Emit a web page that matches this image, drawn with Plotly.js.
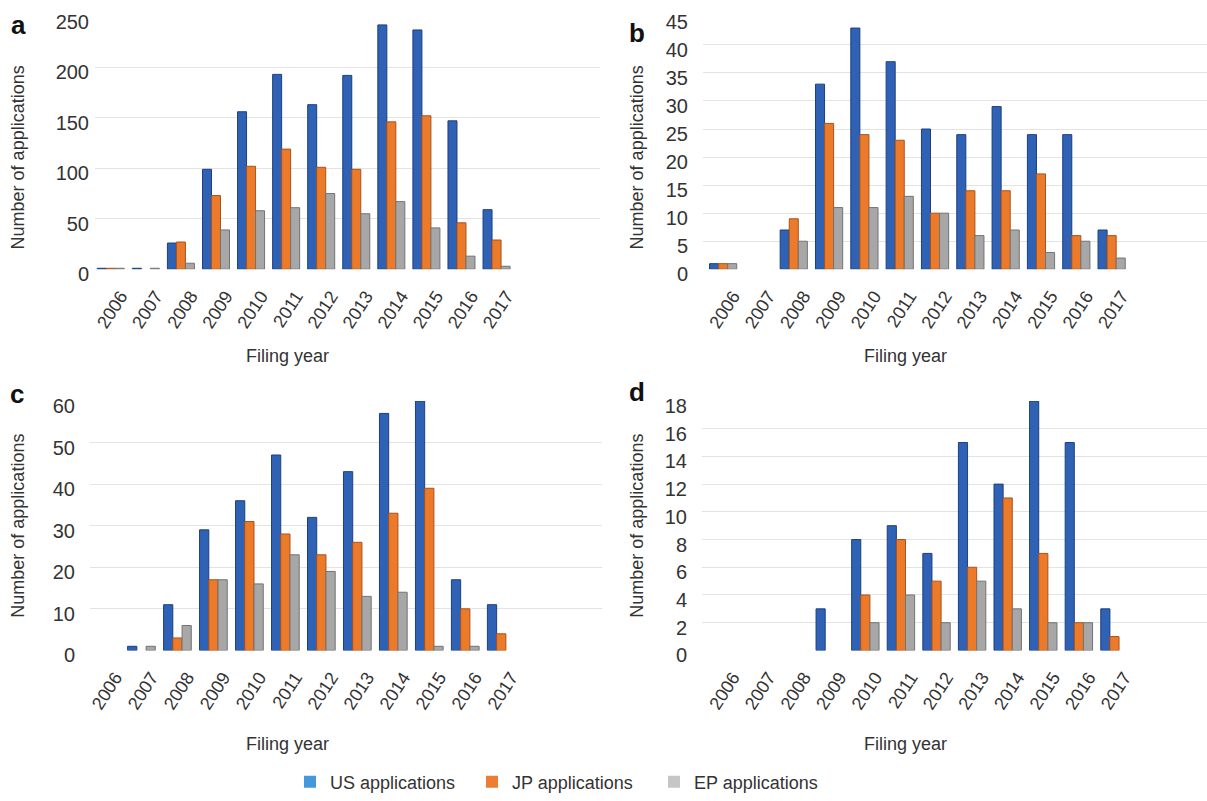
<!DOCTYPE html>
<html>
<head>
<meta charset="utf-8">
<script src="https://cdn.plot.ly/plotly-3.0.1.min.js"></script>
<style>html,body{margin:0;padding:0;background:#fff;}#chart{width:1207px;height:801px;}</style>
</head>
<body>
<div id="chart"></div>
<script>
// ---- data ----
const years = ['2006','2007','2008','2009','2010','2011','2012','2013','2014','2015','2016','2017'];
const seriesNames = ['US applications','JP applications','EP applications'];

// panel a
const usA = [1, 1, 26, 99, 156, 193, 163, 192, 242, 237, 147, 59];
const jpA = [1, 0, 27, 73, 102, 119, 101, 99, 146, 152, 46, 29];
const epA = [1, 1, 6, 39, 58, 61, 75, 55, 67, 41, 13, 3];
// panel b
const usB = [1, 0, 7, 33, 43, 37, 25, 24, 29, 24, 24, 7];
const jpB = [1, 0, 9, 26, 24, 23, 10, 14, 14, 17, 6, 6];
const epB = [1, 0, 5, 11, 11, 13, 10, 6, 7, 3, 5, 2];
// panel c
const usC = [0, 1, 11, 29, 36, 47, 32, 43, 57, 60, 17, 11];
const jpC = [0, 0, 3, 17, 31, 28, 23, 26, 33, 39, 10, 4];
const epC = [0, 1, 6, 17, 16, 23, 19, 13, 14, 1, 1, 0];
// panel d
const usD = [0, 0, 0, 3, 8, 9, 7, 15, 12, 18, 15, 3];
const jpD = [0, 0, 0, 0, 4, 8, 5, 6, 11, 7, 2, 1];
const epD = [0, 0, 0, 0, 2, 4, 2, 5, 3, 2, 2, 0];

const panelLabels = ['a','b','c','d'];
const yTicks = {a:[0,50,100,150,200,250], b:[0,5,10,15,20,25,30,35,40,45], c:[0,10,20,30,40,50,60], d:[0,2,4,6,8,10,12,14,16,18]};
const xTitle = 'Filing year';
const yTitle = 'Number of applications';

// ---- styles ----
const fill = ['#2F62B5','#EC7A2B','#A7A7A7'];
const edge = ['#1C3F80','#A9531B','#737373'];
const legendFill = ['#4598DC','#ED7D31','#C6C6C6'];
const txt = '#333333';
const grid = '#E3E3E3';

const panels = [
  {vals:[usA,jpA,epA], xa:'x',  ya:'y'},
  {vals:[usB,jpB,epB], xa:'x2', ya:'y2'},
  {vals:[usC,jpC,epC], xa:'x3', ya:'y3'},
  {vals:[usD,jpD,epD], xa:'x4', ya:'y4'}
];

const traces = [];
panels.forEach(p => {
  p.vals.forEach((v, i) => {
    traces.push({
      type:'bar', x:years, y:v.map(d => d === 0 ? null : d), name:seriesNames[i],
      xaxis:p.xa, yaxis:p.ya, showlegend:false, hoverinfo:'x+y+name',
      marker:{color:fill[i], line:{color:edge[i], width:1}}
    });
  });
});
// legend entries (on a hidden axis pair so they do not take bar slots)
seriesNames.forEach((n, i) => {
  traces.push({type:'bar', x:[years[0]], y:[null], name:n, xaxis:'x5', yaxis:'y5',
    showlegend:true, marker:{color:legendFill[i]}});
});

function xax(dom, range){
  return {domain:dom, type:'category', categoryorder:'array', categoryarray:years,
    range:range, tickangle:-57, tickfont:{size:18, color:txt}, showgrid:false,
    zeroline:false, showline:false, ticks:'', ticklabelstandoff:12, ticklabelshift:10,
    fixedrange:true};
}
function yax(dom, tv, xa, so){
  return {domain:dom, anchor:xa, range:[0, tv[tv.length-1]], tickvals:tv,
    tickfont:{size:20, color:txt}, showgrid:true, gridcolor:grid, gridwidth:1,
    zeroline:false, showline:false, ticks:'', ticklabelstandoff:so, ticklabelshift:5,
    fixedrange:true};
}
const W = 1207, H = 801;
const yTop = [1-272/H, 1-17/H], yBot = [1-657/H, 1-405/H];

const layout = {
  width:W, height:H, margin:{l:0,r:0,t:0,b:0},
  paper_bgcolor:'#ffffff', plot_bgcolor:'#ffffff',
  font:{family:'Liberation Sans, Arial, sans-serif', color:txt},
  barmode:'group', bargap:0.23, bargroupgap:0,
  showlegend:true,
  legend:{orientation:'h', x:290/W, xanchor:'left', y:1-790/H, yanchor:'middle',
    font:{size:18, color:txt}, itemwidth:30, entrywidth:137, entrywidthmode:'pixels',
    traceorder:'normal'},
  xaxis: Object.assign(xax([95/W, 600/W], [-0.45, 13.95]), {anchor:'y'}),
  yaxis: yax(yTop, yTicks.a, 'x', 5),
  xaxis2: Object.assign(xax([703/W, 1], [-0.57, 13.7]), {anchor:'y2'}),
  yaxis2: yax(yTop, yTicks.b, 'x2', 14),
  xaxis3: Object.assign(xax([90/W, 602/W], [-0.43, 13.8]), {anchor:'y3'}),
  yaxis3: yax(yBot, yTicks.c, 'x3', 14),
  xaxis4: Object.assign(xax([702/W, 1], [-0.59, 13.6]), {anchor:'y4'}),
  yaxis4: yax(yBot, yTicks.d, 'x4', 14),
  xaxis5: {domain:[0,0.01], anchor:'y5', visible:false, fixedrange:true},
  yaxis5: {domain:[0,0.01], anchor:'x5', visible:false, fixedrange:true},
  annotations: []
};

const labelPos = [[18,25],[637,33],[17,398],[637,396]];
const yTitlePos = [[18,159],[637,159],[18,531],[637,531]];
const xTitlePos = [[287,360],[905,360],[287,752],[905,752]];
for (let k=0;k<4;k++){
  layout.annotations.push({text:'<b>'+panelLabels[k]+'</b>', xref:'paper', yref:'paper',
    x:labelPos[k][0]/W, y:1-labelPos[k][1]/H, xanchor:'center', yanchor:'middle',
    showarrow:false, font:{size:26, color:'#111'}});
  layout.annotations.push({text:yTitle, xref:'paper', yref:'paper', textangle:-90,
    x:yTitlePos[k][0]/W, y:1-yTitlePos[k][1]/H, xanchor:'center', yanchor:'middle',
    showarrow:false, font:{size:18, color:txt}});
  layout.annotations.push({text:xTitle, xref:'paper', yref:'paper',
    x:xTitlePos[k][0]/W, y:1-xTitlePos[k][1]/H, xanchor:'center', yanchor:'middle',
    showarrow:false, font:{size:18, color:txt}});
}

Plotly.newPlot('chart', traces, layout, {displayModeBar:false, staticPlot:true});
</script>
</body>
</html>
